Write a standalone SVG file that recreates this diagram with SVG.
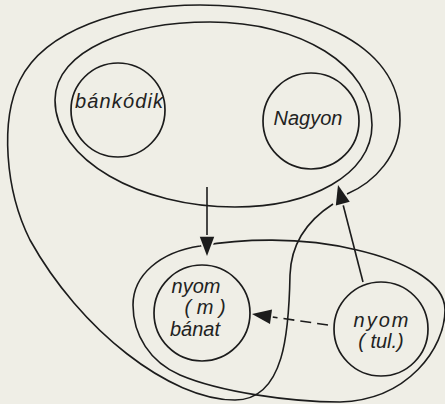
<svg xmlns="http://www.w3.org/2000/svg" width="445" height="404" viewBox="0 0 445 404">
<style>
.bg{fill:#efeee6}
.ln{fill:none;stroke:#1c1c1c;stroke-width:1.6}
.nd{fill:none;stroke:#1c1c1c;stroke-width:1.7}
.tx{font-family:"Liberation Sans","DejaVu Sans",sans-serif;font-style:italic;font-size:20px;fill:#222}
.dash{stroke-dasharray:11 6}
</style>
<defs>
<marker id="ah" markerUnits="userSpaceOnUse" markerWidth="24" markerHeight="20" viewBox="-2 -8 20 16" refX="16" refY="0" orient="auto">
<path d="M0,-6 L16,0 L0,6 Z" fill="#1c1c1c" stroke="#efeee6" stroke-width="3" paint-order="stroke"/>
</marker>
</defs>
<rect class="bg" x="0" y="0" width="445" height="404"/>
<g id="containers">
<path id="outer-loop" class="ln" d="M200,5 C300,5 400,40 400,120 C400,155 375,182 347,194 M333,204 C305,222 291,245 290,275 C289,330 285,400 235,400 C170,400 80,330 30,240 C5,190 0,120 20,80 C45,30 120,5 200,5"/>
<path id="top-ellipse" class="ln" d="M55,100 C55,50 130,22 210,22 C300,22 372,65 372,125 C372,175 310,207 235,207 C140,207 55,160 55,100 Z"/>
<path id="bottom-ellipse" class="ln" d="M133,305 C133,275 160,252 200,246 C240,239 300,236 357,250 C400,260 445,280 445,310 C445,348 408,400 340,402 C290,402 220,392 180,375 C150,362 133,335 133,305 Z"/>
</g>
<g id="connectors">
<path class="ln" d="M207,187 L207,256" marker-end="url(#ah)"/>
<path class="ln" d="M363,282 L338,185" marker-end="url(#ah)"/>
<path class="ln dash" d="M328,325 L252,314" marker-end="url(#ah)"/>
</g>
<g id="bankodik">
<circle class="nd" cx="118" cy="110" r="47"/>
<text class="tx" x="119" y="108" text-anchor="middle" textLength="88">bánkódik</text>
</g>
<g id="nagyon">
<circle class="nd" cx="311" cy="121" r="48"/>
<text class="tx" x="308" y="125" text-anchor="middle">Nagyon</text>
</g>
<g id="nyom-m-banat">
<circle class="nd" cx="202" cy="313" r="48"/>
<text class="tx" x="196" y="293" text-anchor="middle">nyom</text>
<text class="tx" x="205" y="314" text-anchor="middle">( m )</text>
<text class="tx" x="195" y="336" text-anchor="middle">bánat</text>
</g>
<g id="nyom-tul">
<circle class="nd" cx="381" cy="329" r="47"/>
<text class="tx" x="381" y="327" text-anchor="middle" textLength="55">nyom</text>
<text class="tx" x="381" y="348" text-anchor="middle">( tul.)</text>
</g>
</svg>
